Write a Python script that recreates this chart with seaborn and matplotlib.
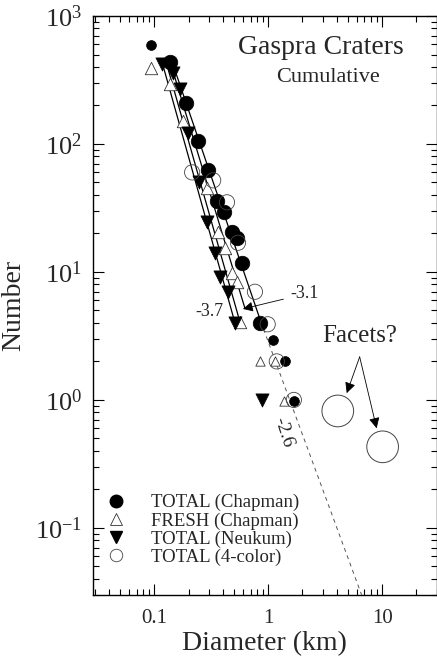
import numpy as np
import pandas as pd
import matplotlib
matplotlib.use("Agg")
import matplotlib.pyplot as plt
from matplotlib.lines import Line2D
from matplotlib.ticker import LogLocator, FixedLocator, FixedFormatter, NullFormatter
import seaborn as sns

# ---------------- data ----------------
d_total_chapman = [0.094, 0.138, 0.190, 0.242, 0.296, 0.356, 0.409, 0.481, 0.532, 0.589, 0.846, 1.10, 1.40, 1.68]
n_total_chapman = [593, 437, 209, 105, 63, 36, 29.4, 20.5, 18.4, 11.7, 4.0, 2.94, 2.0, 0.98]

d_fresh_chapman = [0.094, 0.138, 0.179, 0.290, 0.363, 0.418, 0.481, 0.532, 0.565, 0.846, 1.145, 1.37]
n_fresh_chapman = [393, 294, 151, 45.3, 20.5, 15.4, 9.8, 8.4, 4.07, 2.0, 2.0, 0.98]

d_total_neukum = [0.117, 0.146, 0.169, 0.198, 0.247, 0.290, 0.341, 0.378, 0.444, 0.511, 0.88]
n_total_neukum = [422, 359, 269, 122, 50.5, 24.6, 14.1, 9.1, 7.0, 4.0, 1.0]

d_total_4color = [0.215, 0.329, 0.435, 0.543, 0.765, 0.99, 1.19, 1.68]
n_total_4color = [60, 52, 35, 16.9, 7.0, 3.9, 2.0, 1.0]

d_facets = [4.08, 10.1]
n_facets = [0.82, 0.43]

# fitted power-law segments (start/end)
fit_d_start = [0.117, 0.127, 0.138, 0.1435]
fit_n_start = [437, 437, 437, 437]
fit_d_end = [0.511, 0.565, 0.625, 0.863]
fit_n_end = [4.0, 4.07, 5.2, 4.07]

ext_d = [0.863, 6.6]      # dashed -2.6 extension
ext_n = [4.07, 0.03]

legend_labels = ["TOTAL (Chapman)", "FRESH (Chapman)", "TOTAL (Neukum)", "TOTAL (4-color)"]
y_tick_vals = [0.1, 1, 10, 100, 1000]
y_tick_labels = [r"$\mathregular{10^{-1}}$", r"$\mathregular{10^{0}}$", r"$\mathregular{10^{1}}$",
                 r"$\mathregular{10^{2}}$", r"$\mathregular{10^{3}}$"]
x_tick_vals = [0.1, 1, 10]
x_tick_labels = ["0.1", "1", "10"]

# ---------------- style ----------------
sns.set_theme(style="ticks")
plt.rcParams["font.family"] = ["Liberation Serif", "DejaVu Serif"]
plt.rcParams["mathtext.fontset"] = "custom"
plt.rcParams["mathtext.rm"] = "Liberation Serif"

fig = plt.figure(figsize=(4.37, 6.58), dpi=100)
ax = fig.add_axes([93 / 437, 1 - 595 / 658, (436.5 - 93) / 437, (595 - 16) / 658])

ax.set_xscale("log")
ax.set_yscale("log")
ax.set_xlim(0.029, 30)
ax.set_ylim(0.0299, 1000)

# fit lines
for i in range(len(fit_d_start)):
    seg = pd.DataFrame({"D": [fit_d_start[i], fit_d_end[i]], "N": [fit_n_start[i], fit_n_end[i]]})
    sns.lineplot(data=seg, x="D", y="N", ax=ax, color="black", lw=0.9, estimator=None, sort=False, zorder=2)
ext = pd.DataFrame({"D": ext_d, "N": ext_n})
sns.lineplot(data=ext, x="D", y="N", ax=ax, color="#555555", lw=0.7, estimator=None, sort=False,
             zorder=1)
ax.lines[-1].set_dashes([4, 4])

# points
tc = pd.DataFrame({"D": d_total_chapman, "N": n_total_chapman})
big = tc.iloc[1:11]
small = tc.iloc[[0, 11, 12, 13]]
sns.scatterplot(data=big, x="D", y="N", ax=ax, marker="o", s=110, color="black", edgecolor="black",
                linewidth=0.5, zorder=4)
sns.scatterplot(data=small, x="D", y="N", ax=ax, marker="o", s=50, color="black", edgecolor="black",
                linewidth=0.5, zorder=4)

fr = pd.DataFrame({"D": d_fresh_chapman, "N": n_fresh_chapman})
sns.scatterplot(data=fr.iloc[:9], x="D", y="N", ax=ax, marker="^", s=80, facecolor="white",
                edgecolor="#333333", linewidth=0.6, zorder=3)
sns.scatterplot(data=fr.iloc[9:], x="D", y="N", ax=ax, marker="^", s=45, facecolor="white",
                edgecolor="#333333", linewidth=0.6, zorder=3)

nk = pd.DataFrame({"D": d_total_neukum, "N": n_total_neukum})
sns.scatterplot(data=nk, x="D", y="N", ax=ax, marker="v", s=90, color="black", edgecolor="black",
                linewidth=0.5, zorder=4)

fc = pd.DataFrame({"D": d_total_4color, "N": n_total_4color})
sns.scatterplot(data=fc, x="D", y="N", ax=ax, marker="o", s=120, facecolor="none",
                edgecolor="#444444", linewidth=0.6, zorder=5)
fa = pd.DataFrame({"D": d_facets, "N": n_facets})
sns.scatterplot(data=fa, x="D", y="N", ax=ax, marker="o", s=520, facecolor="none",
                edgecolor="#444444", linewidth=0.7, zorder=5)

ax.set_xlabel("Diameter (km)", fontsize=20, labelpad=2)
ax.set_ylabel("Number", fontsize=20, labelpad=6)

# ticks
ax.yaxis.set_major_locator(FixedLocator(y_tick_vals))
ax.yaxis.set_major_formatter(FixedFormatter(y_tick_labels))
ax.yaxis.set_minor_locator(LogLocator(base=10, subs=np.arange(2, 10), numticks=20))
ax.yaxis.set_minor_formatter(NullFormatter())
ax.xaxis.set_major_locator(FixedLocator(x_tick_vals))
ax.xaxis.set_major_formatter(FixedFormatter(x_tick_labels))
ax.xaxis.set_minor_locator(LogLocator(base=10, subs=np.arange(2, 10), numticks=20))
ax.xaxis.set_minor_formatter(NullFormatter())
ax.tick_params(which="both", direction="in", top=True, right=True, color="black", width=0.8)
ax.tick_params(which="major", length=8)
ax.tick_params(which="minor", length=4)
ax.tick_params(axis="y", which="major", labelsize=19, pad=8)
ax.tick_params(axis="x", which="major", labelsize=15, pad=10)
for s in ax.spines.values():
    s.set_linewidth(1.0)
    s.set_color("black")

# texts
ax.text(0.664, 0.946, "Gaspra Craters", transform=ax.transAxes, ha="center", va="center", fontsize=20)
ax.text(0.684, 0.893, "Cumulative", transform=ax.transAxes, ha="center", va="center", fontsize=16)

ax.annotate("-3.1", xy=(0.60, 5.14), xytext=(2.10, 6.73), fontsize=13, ha="center", va="center",
            arrowprops=dict(arrowstyle="-|>", color="black", lw=0.6, mutation_scale=15,
                            shrinkA=3, shrinkB=0))
ax.text(0.303, 4.87, "-3.7", fontsize=13, ha="center", va="center")
ax.text(1.345, 0.562, "-2.6", fontsize=14, ha="center", va="center", rotation=-72)

ax.text(6.35, 3.16, "Facets?", fontsize=18, ha="center", va="center")
for tip in [(4.89, 1.13), (8.95, 0.60)]:
    ax.annotate("", xy=tip, xytext=(6.35, 2.17),
                arrowprops=dict(arrowstyle="-|>", color="black", lw=0.6, mutation_scale=16,
                                shrinkA=0, shrinkB=0))

# legend
handles = [
    Line2D([], [], marker="o", ls="", color="black", markersize=9),
    Line2D([], [], marker="^", ls="", markerfacecolor="white", markeredgecolor="#333333",
           markersize=9, markeredgewidth=0.6),
    Line2D([], [], marker="v", ls="", color="black", markersize=8),
    Line2D([], [], marker="o", ls="", markerfacecolor="white", markeredgecolor="#444444",
           markersize=9, markeredgewidth=0.6),
]
ax.legend(handles, legend_labels, loc="upper left", bbox_to_anchor=(0.044, 0.1744), frameon=False,
          fontsize=13.5, handlelength=0.8, handletextpad=1.5, labelspacing=0.05, borderpad=0,
          borderaxespad=0)

fig.savefig("out.png", dpi=100)
